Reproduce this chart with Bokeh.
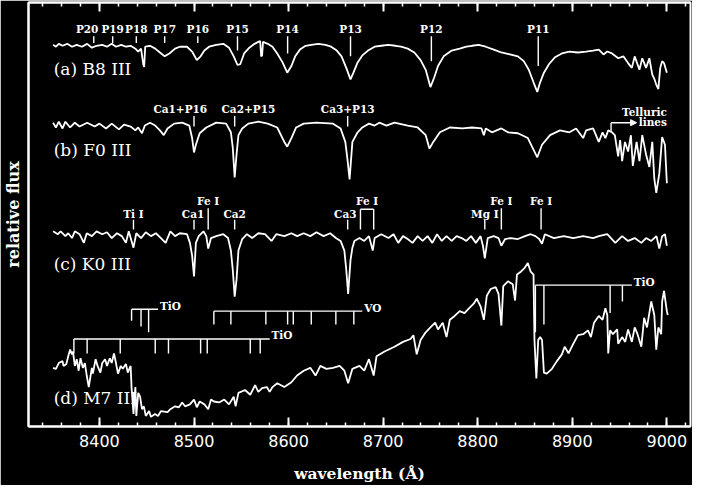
from bokeh.plotting import figure
from bokeh.models import LinearAxis, SingleIntervalTicker, FixedTicker, Arrow, NormalHead
from bokeh.core.properties import value
from bokeh.embed import file_html
from bokeh.resources import INLINE

# ---------------- spectra (wavelength in Angstrom, relative flux incl. offsets) ----------------
spec_a = [(8351, 397), (8354, 395), (8357, 398), (8361, 396), (8366, 398), (8371, 395), (8376, 397),
          (8381.5, 395), (8387, 398), (8392, 394), (8397, 396), (8403, 397), (8408, 395), (8413, 398),
          (8417.5, 395), (8423, 397), (8428, 395), (8433, 396), (8438, 393), (8441, 390), (8444, 393),
          (8446.3, 377), (8447.3, 374), (8448.4, 395), (8453.5, 396), (8459, 393), (8464, 389),
          (8469, 385), (8474, 388), (8480, 393), (8485, 395), (8492.6, 395), (8498, 390), (8503, 381),
          (8507, 385), (8511, 391), (8516, 395), (8523.5, 397), (8531, 398), (8537, 394), (8542, 385),
          (8546, 376), (8549, 377), (8553, 388), (8558.5, 394), (8564, 398), (8568, 400), (8570, 401),
          (8571, 385), (8572, 386), (8573, 400), (8578, 398), (8583, 395), (8588, 388), (8593.5, 379),
          (8598.6, 368), (8603, 375), (8607, 385), (8612, 392), (8618, 396), (8624, 397), (8631.5, 398),
          (8639, 397), (8645, 395), (8651, 391), (8656, 385), (8661, 373), (8665.5, 361), (8668.6, 368),
          (8672.7, 378), (8678, 386), (8684, 391), (8691, 395), (8698, 396), (8705.6, 397), (8713, 396),
          (8719, 395), (8726, 393), (8733, 389), (8739.6, 381), (8745, 371), (8750, 353), (8754, 363),
          (8758, 375), (8764, 385), (8772.5, 391), (8781, 393), (8788, 395), (8794, 396), (8801, 397),
          (8808.5, 395), (8817, 392), (8825, 389), (8834, 387), (8842.5, 385), (8848.7, 380), (8854, 371),
          (8859, 358), (8863, 348), (8866, 358), (8870, 368), (8875.5, 377), (8881.6, 384), (8889, 388),
          (8897, 390), (8906, 389), (8914.6, 390), (8922, 391), (8928, 392), (8933, 387), (8937, 390),
          (8942, 388), (8948.6, 383), (8954, 385), (8959, 378), (8963, 373), (8966, 385), (8971, 371),
          (8974, 383), (8978, 373), (8981.5, 383), (8984.6, 366), (8987, 361), (8989, 355), (8991, 351),
          (8993, 373), (8995, 380), (8997, 378), (9000, 368)]

spec_b = [(8351, 316), (8354, 311), (8357, 317), (8361, 310), (8364, 317), (8369, 311), (8374, 316),
          (8379, 312), (8387, 316), (8395, 312), (8400, 315), (8407, 310), (8413, 315), (8420.6, 309),
          (8426, 314), (8433, 312), (8438, 308), (8441, 311), (8445, 305), (8448, 313), (8453.5, 316),
          (8459, 313), (8464, 308), (8468, 303), (8472, 310), (8479, 315), (8487.5, 316), (8495, 313),
          (8498, 300), (8500, 285), (8502, 293), (8506, 305), (8513, 311), (8523.5, 316), (8534, 315),
          (8539, 306), (8541, 290), (8543, 259), (8545, 283), (8547, 303), (8551, 310), (8557.5, 315),
          (8568, 317), (8578, 315), (8588, 311), (8595.5, 296), (8598.6, 291), (8603, 300), (8608, 311),
          (8616, 315), (8629.5, 316), (8647, 315), (8655, 310), (8660, 296), (8662.5, 276), (8664.5, 257),
          (8667.5, 296), (8673, 306), (8678, 311), (8685, 315), (8691, 313), (8696, 316), (8703.5, 313),
          (8712, 316), (8726, 313), (8736.5, 311), (8745, 303), (8749, 289), (8753, 296), (8760, 306),
          (8770.5, 311), (8784, 310), (8794, 311), (8804, 310), (8806.5, 303), (8808.5, 310), (8815, 306),
          (8825, 310), (8832, 306), (8842.5, 305), (8853, 300), (8860, 286), (8863, 280), (8868, 293),
          (8876.5, 303), (8887, 308), (8897, 306), (8904, 310), (8911.5, 300), (8914.6, 308), (8922, 310),
          (8928, 296), (8932, 306), (8935, 300), (8938, 308), (8942, 306), (8945, 303), (8948.5, 281),
          (8950.6, 298), (8952.7, 276), (8955.7, 296), (8959, 286), (8962, 303), (8964, 271), (8968, 296),
          (8971, 276), (8974, 303), (8978, 283), (8981.5, 270), (8984.6, 296), (8986.7, 258), (8988.8, 243),
          (8992, 263), (8995, 301), (8998, 293), (9000, 253)]

spec_c = [(8351, 203), (8356, 200), (8359, 203), (8364, 198), (8367, 201), (8371, 196), (8374, 203),
          (8379, 200), (8383.5, 191), (8386.6, 201), (8392, 198), (8397, 203), (8403, 200), (8408, 202),
          (8413, 196), (8418.5, 201), (8423.7, 198), (8428, 191), (8431, 203), (8436, 186), (8439, 201),
          (8444, 196), (8449, 202), (8454.5, 198), (8459.7, 201), (8465, 196), (8470, 191), (8475, 203),
          (8480, 198), (8485, 201), (8492.6, 200), (8495.7, 191), (8498, 178), (8500, 156), (8502, 191),
          (8505, 198), (8510, 203), (8513, 198), (8515, 185), (8518, 196), (8523.5, 198), (8531, 200),
          (8536, 196), (8539, 183), (8541, 163), (8543, 135), (8545, 153), (8547, 183), (8551, 195),
          (8556, 200), (8561.5, 196), (8568, 201), (8575, 200), (8582, 193), (8587, 200), (8595.5, 198),
          (8603, 201), (8609, 198), (8616, 201), (8623, 198), (8629.5, 202), (8637, 198), (8644, 201),
          (8650, 196), (8655, 193), (8659, 183), (8661, 163), (8663, 138), (8665.5, 173), (8667.5, 186),
          (8669.6, 193), (8675, 196), (8680, 193), (8685, 198), (8689, 183), (8691, 196), (8698, 200),
          (8705.6, 196), (8711, 200), (8716, 191), (8721, 198), (8726, 195), (8731, 191), (8736.5, 198),
          (8741.7, 193), (8747, 198), (8752, 191), (8757, 200), (8762, 193), (8767, 198), (8772.5, 193),
          (8777.7, 198), (8783, 196), (8788, 193), (8793, 198), (8798, 191), (8803, 198), (8805.5, 188),
          (8807.5, 175), (8810.6, 196), (8817, 198), (8822, 196), (8825, 188), (8829, 195), (8835, 196),
          (8842.5, 195), (8850, 198), (8856, 200), (8861, 198), (8865, 195), (8868, 190), (8871, 200),
          (8880.6, 196), (8891, 198), (8901, 196), (8911.5, 198), (8922, 196), (8928, 198), (8937, 200),
          (8945.5, 191), (8952.7, 198), (8959, 193), (8966, 196), (8973, 191), (8978, 196), (8983.5, 193),
          (8989, 198), (8992, 185), (8995, 198), (8998, 200), (9000, 188)]

spec_d = [(8351, 61), (8354, 60), (8357, 66), (8361, 68), (8362, 63), (8365, 65), (8367, 73), (8369, 80),
          (8371, 75), (8372, 78), (8374, 63), (8376, 70), (8378, 58), (8380, 71), (8382.5, 61),
          (8384.6, 66), (8386.6, 53), (8388.7, 41), (8392, 61), (8393, 55), (8396, 70), (8398, 63),
          (8401, 56), (8403, 66), (8406, 70), (8408, 63), (8411, 71), (8413, 66), (8415.4, 76),
          (8417.5, 66), (8419.6, 55), (8422.6, 63), (8424.7, 60), (8428, 65), (8430, 56), (8433, 63),
          (8434, 40), (8436, 13), (8438, 41), (8439, 11), (8441, 35), (8443, 31), (8445, 18), (8447, 21),
          (8449, 11), (8452.5, 16), (8454.5, 10), (8458.7, 13), (8462, 11), (8465, 16), (8472, 15),
          (8475, 18), (8480, 21), (8484, 20), (8487.5, 25), (8490.6, 21), (8495.7, 23), (8500, 28),
          (8503, 20), (8506, 26), (8511, 23), (8515, 18), (8518, 28), (8521, 26), (8526.6, 25), (8532, 28),
          (8537, 23), (8542, 31), (8544, 21), (8547, 35), (8554, 38), (8559.5, 33), (8564.6, 43),
          (8568, 36), (8572, 40), (8577, 41), (8580, 36), (8583, 41), (8588, 45), (8595.5, 41), (8603, 46),
          (8609, 53), (8616, 58), (8623, 61), (8628.5, 53), (8633.6, 63), (8640, 60), (8647, 61),
          (8654, 63), (8659, 58), (8663, 45), (8667.5, 60), (8675, 63), (8680, 58), (8685, 70), (8690, 53),
          (8693, 73), (8701.5, 78), (8712, 83), (8721, 88), (8729, 91), (8732, 95), (8735.5, 75),
          (8739.6, 90), (8745, 98), (8750, 103), (8755, 108), (8758, 101), (8763, 108), (8767, 93),
          (8770.5, 111), (8775.6, 115), (8781, 120), (8786, 118), (8791, 123), (8796, 128), (8799, 133),
          (8803, 125), (8806.5, 111), (8809.6, 136), (8813.7, 143), (8819, 145), (8822, 138), (8825, 105),
          (8827, 146), (8832, 151), (8837, 148), (8839.5, 131), (8841.5, 158), (8845.6, 161),
          (8849.7, 165), (8853, 170), (8856, 161), (8859, 158), (8860, 90), (8862, 50), (8864, 90),
          (8866, 93), (8868, 90), (8870, 56), (8873, 55), (8878.5, 60), (8883.7, 68), (8889, 75),
          (8892, 83), (8896, 76), (8901, 86), (8906, 95), (8911.5, 96), (8916.6, 100), (8919.7, 93),
          (8923, 108), (8928, 115), (8932, 111), (8935, 123), (8937, 116), (8938, 76), (8940, 100),
          (8943, 96), (8947.5, 101), (8948.5, 86), (8952.7, 93), (8956, 88), (8959, 101), (8963, 88),
          (8966, 103), (8969, 96), (8973, 83), (8976, 113), (8979, 103), (8983.5, 130), (8986.7, 116),
          (8988.8, 80), (8991, 103), (8994, 96), (8995, 130), (8997, 141), (9000, 120), (9001, 116)]

spec_names = ["(a) B8 III", "(b) F0 III", "(c) K0 III", "(d) M7 III"]

# ---------------- line identifications ----------------
pas_names = ["P20", "P19", "P18", "P17", "P16", "P15", "P14", "P13", "P12", "P11"]
pas_wl = [8394, 8414, 8439, 8469, 8504, 8546, 8599, 8665.5, 8751, 8864]

ca_names = ["Ca1+P16", "Ca2+P15", "Ca3+P13"]
ca_wl = [8500, 8543, 8662.5]

k_names = ["Ti I", "Ca1", "Ca2", "Ca3", "Mg I"]
k_wl = [8436, 8500, 8543, 8662.5, 8807.5]
fe_wl = [8515, 8825, 8867]
fe_pair_wl = [8676, 8690]

tio_a_wl = [8434, 8444, 8452]
vo_wl = [8521, 8539, 8576, 8599, 8605, 8624, 8650, 8669]
tio_b_wl = [8373, 8387, 8422, 8459, 8473, 8507, 8514, 8559.5, 8570]
tio_c_wl = [8861, 8870, 8940, 8953]

x_ticks_step = 100

# ---------------- layout constants ----------------
W, H = 692, 485
WHITE = "white"
LBL_FONT = value("DejaVu Serif")

p = figure(width=W, height=H, x_range=(8325, 9025), y_range=(0, 441),
           output_backend="svg", toolbar_location=None,
           background_fill_color="black", border_fill_color="black",
           outline_line_color=WHITE, outline_line_width=2,
           min_border_left=27, min_border_right=2, min_border_top=2, min_border_bottom=57,
           x_axis_type=None, y_axis_type=None)


def style_x(ax):
    ax.axis_line_color = WHITE
    ax.axis_line_width = 2
    ax.major_tick_line_color = WHITE
    ax.major_tick_line_width = 2
    ax.minor_tick_line_color = WHITE
    ax.minor_tick_line_width = 1.5
    ax.major_tick_in = 9
    ax.major_tick_out = 0
    ax.minor_tick_in = 4
    ax.minor_tick_out = 0


xb = LinearAxis(ticker=SingleIntervalTicker(interval=x_ticks_step, num_minor_ticks=5))
style_x(xb)
xb.major_label_text_color = WHITE
xb.major_label_text_font = "DejaVu Sans"
xb.major_label_text_font_size = "16px"
xb.major_label_standoff = 8
xb.axis_label = "wavelength (Å)"
xb.axis_label_text_color = WHITE
xb.axis_label_text_font = "DejaVu Serif"
xb.axis_label_text_font_style = "bold"
xb.axis_label_text_font_size = "15.5px"
xb.axis_label_standoff = 14
p.add_layout(xb, "below")

xt = LinearAxis(ticker=SingleIntervalTicker(interval=x_ticks_step, num_minor_ticks=5))
style_x(xt)
xt.major_label_text_color = None
xt.major_label_text_font_size = "1px"
xt.major_label_standoff = 0
p.add_layout(xt, "above")

yl = LinearAxis(ticker=FixedTicker(ticks=[], minor_ticks=[]))
yl.axis_line_color = WHITE
yl.axis_line_width = 2
yl.major_tick_in = 0
yl.major_tick_out = 0
yl.minor_tick_in = 0
yl.minor_tick_out = 0
yl.major_label_standoff = 0
yl.major_label_text_color = None
yl.axis_label = "relative flux"
yl.axis_label_text_color = WHITE
yl.axis_label_text_font = "DejaVu Serif"
yl.axis_label_text_font_style = "bold"
yl.axis_label_text_font_size = "16px"
yl.axis_label_standoff = 6
p.add_layout(yl, "left")

# spectra
for spec in (spec_a, spec_b, spec_c, spec_d):
    xs = [s[0] for s in spec]
    ys = [s[1] for s in spec]
    p.line(xs, ys, line_color=WHITE, line_width=1.8)

# spectrum labels
p.text(x=[8351.6] * 4, y=[371.5, 287.5, 169.5, 29.5], text=spec_names,
       text_font=LBL_FONT, text_font_size="17px", text_color=WHITE,
       text_align="left", text_baseline="middle")


def ticks(wls, top, bottoms):
    if not isinstance(bottoms, list):
        bottoms = [bottoms] * len(wls)
    p.segment(x0=wls, y0=[top] * len(wls), x1=wls, y1=bottoms, line_color=WHITE, line_width=1.4)


def labels(xs, ys, txt, align="center"):
    if not isinstance(ys, list):
        ys = [ys] * len(xs)
    p.text(x=xs, y=ys, text=txt, text_font=LBL_FONT, text_font_style="bold",
           text_font_size="10.5px", text_color=WHITE, text_align=align, text_baseline="middle")


# (a) Paschen lines
ticks(pas_wl, 406, [399, 399, 399, 399, 399, 391, 388, 385, 380, 375])
labels([pas_wl[0] - 7] + pas_wl[1:], 413, pas_names)

# (b) Ca triplet
ticks(ca_wl, 323, 312)
labels([ca_wl[0] - 14.5, ca_wl[1] + 14.5, ca_wl[2]], 330, ca_names)
labels([9000, 9000], [327, 317], ["Telluric", "lines"], align="right")
p.segment(x0=[8941], y0=[306], x1=[8941], y1=[316], line_color=WHITE, line_width=1.4)
p.add_layout(Arrow(end=NormalHead(size=6, fill_color=WHITE, line_color=WHITE),
                   x_start=8941, y_start=316, x_end=8968, y_end=316,
                   line_color=WHITE, line_width=1.4))

# (c) K0 lines
ticks(k_wl, 215, 205)
labels([k_wl[0], k_wl[1] - 1, k_wl[2], k_wl[3] - 2.5, k_wl[4]], 221, k_names)
ticks(fe_wl, 227, 205)
ticks(fe_pair_wl, 226, 205)
p.segment(x0=[fe_pair_wl[0]], y0=[226], x1=[fe_pair_wl[1]], y1=[226], line_color=WHITE, line_width=1.4)
labels(fe_wl[:1] + [sum(fe_pair_wl) / 2] + fe_wl[1:], 235, ["Fe I"] * 4)


# (d) molecular bands
def band(wls, bar_y, bottoms, bar_end, name, label_y):
    ticks(wls, bar_y, bottoms)
    p.segment(x0=[wls[0]], y0=[bar_y], x1=[bar_end], y1=[bar_y], line_color=WHITE, line_width=1.4)
    labels([bar_end + 2], [label_y], [name], align="left")


band(tio_a_wl, 122, [110, 104, 98], 8462, "TiO", 125)
band(vo_wl, 120, 106, 8678, "VO", 123)
band(tio_b_wl, 91, 76, 8580, "TiO", 95)
band(tio_c_wl, 147, [98, 106, 118, 130], 8963, "TiO", 150)

open("out.html", "w").write(file_html(p, INLINE))
